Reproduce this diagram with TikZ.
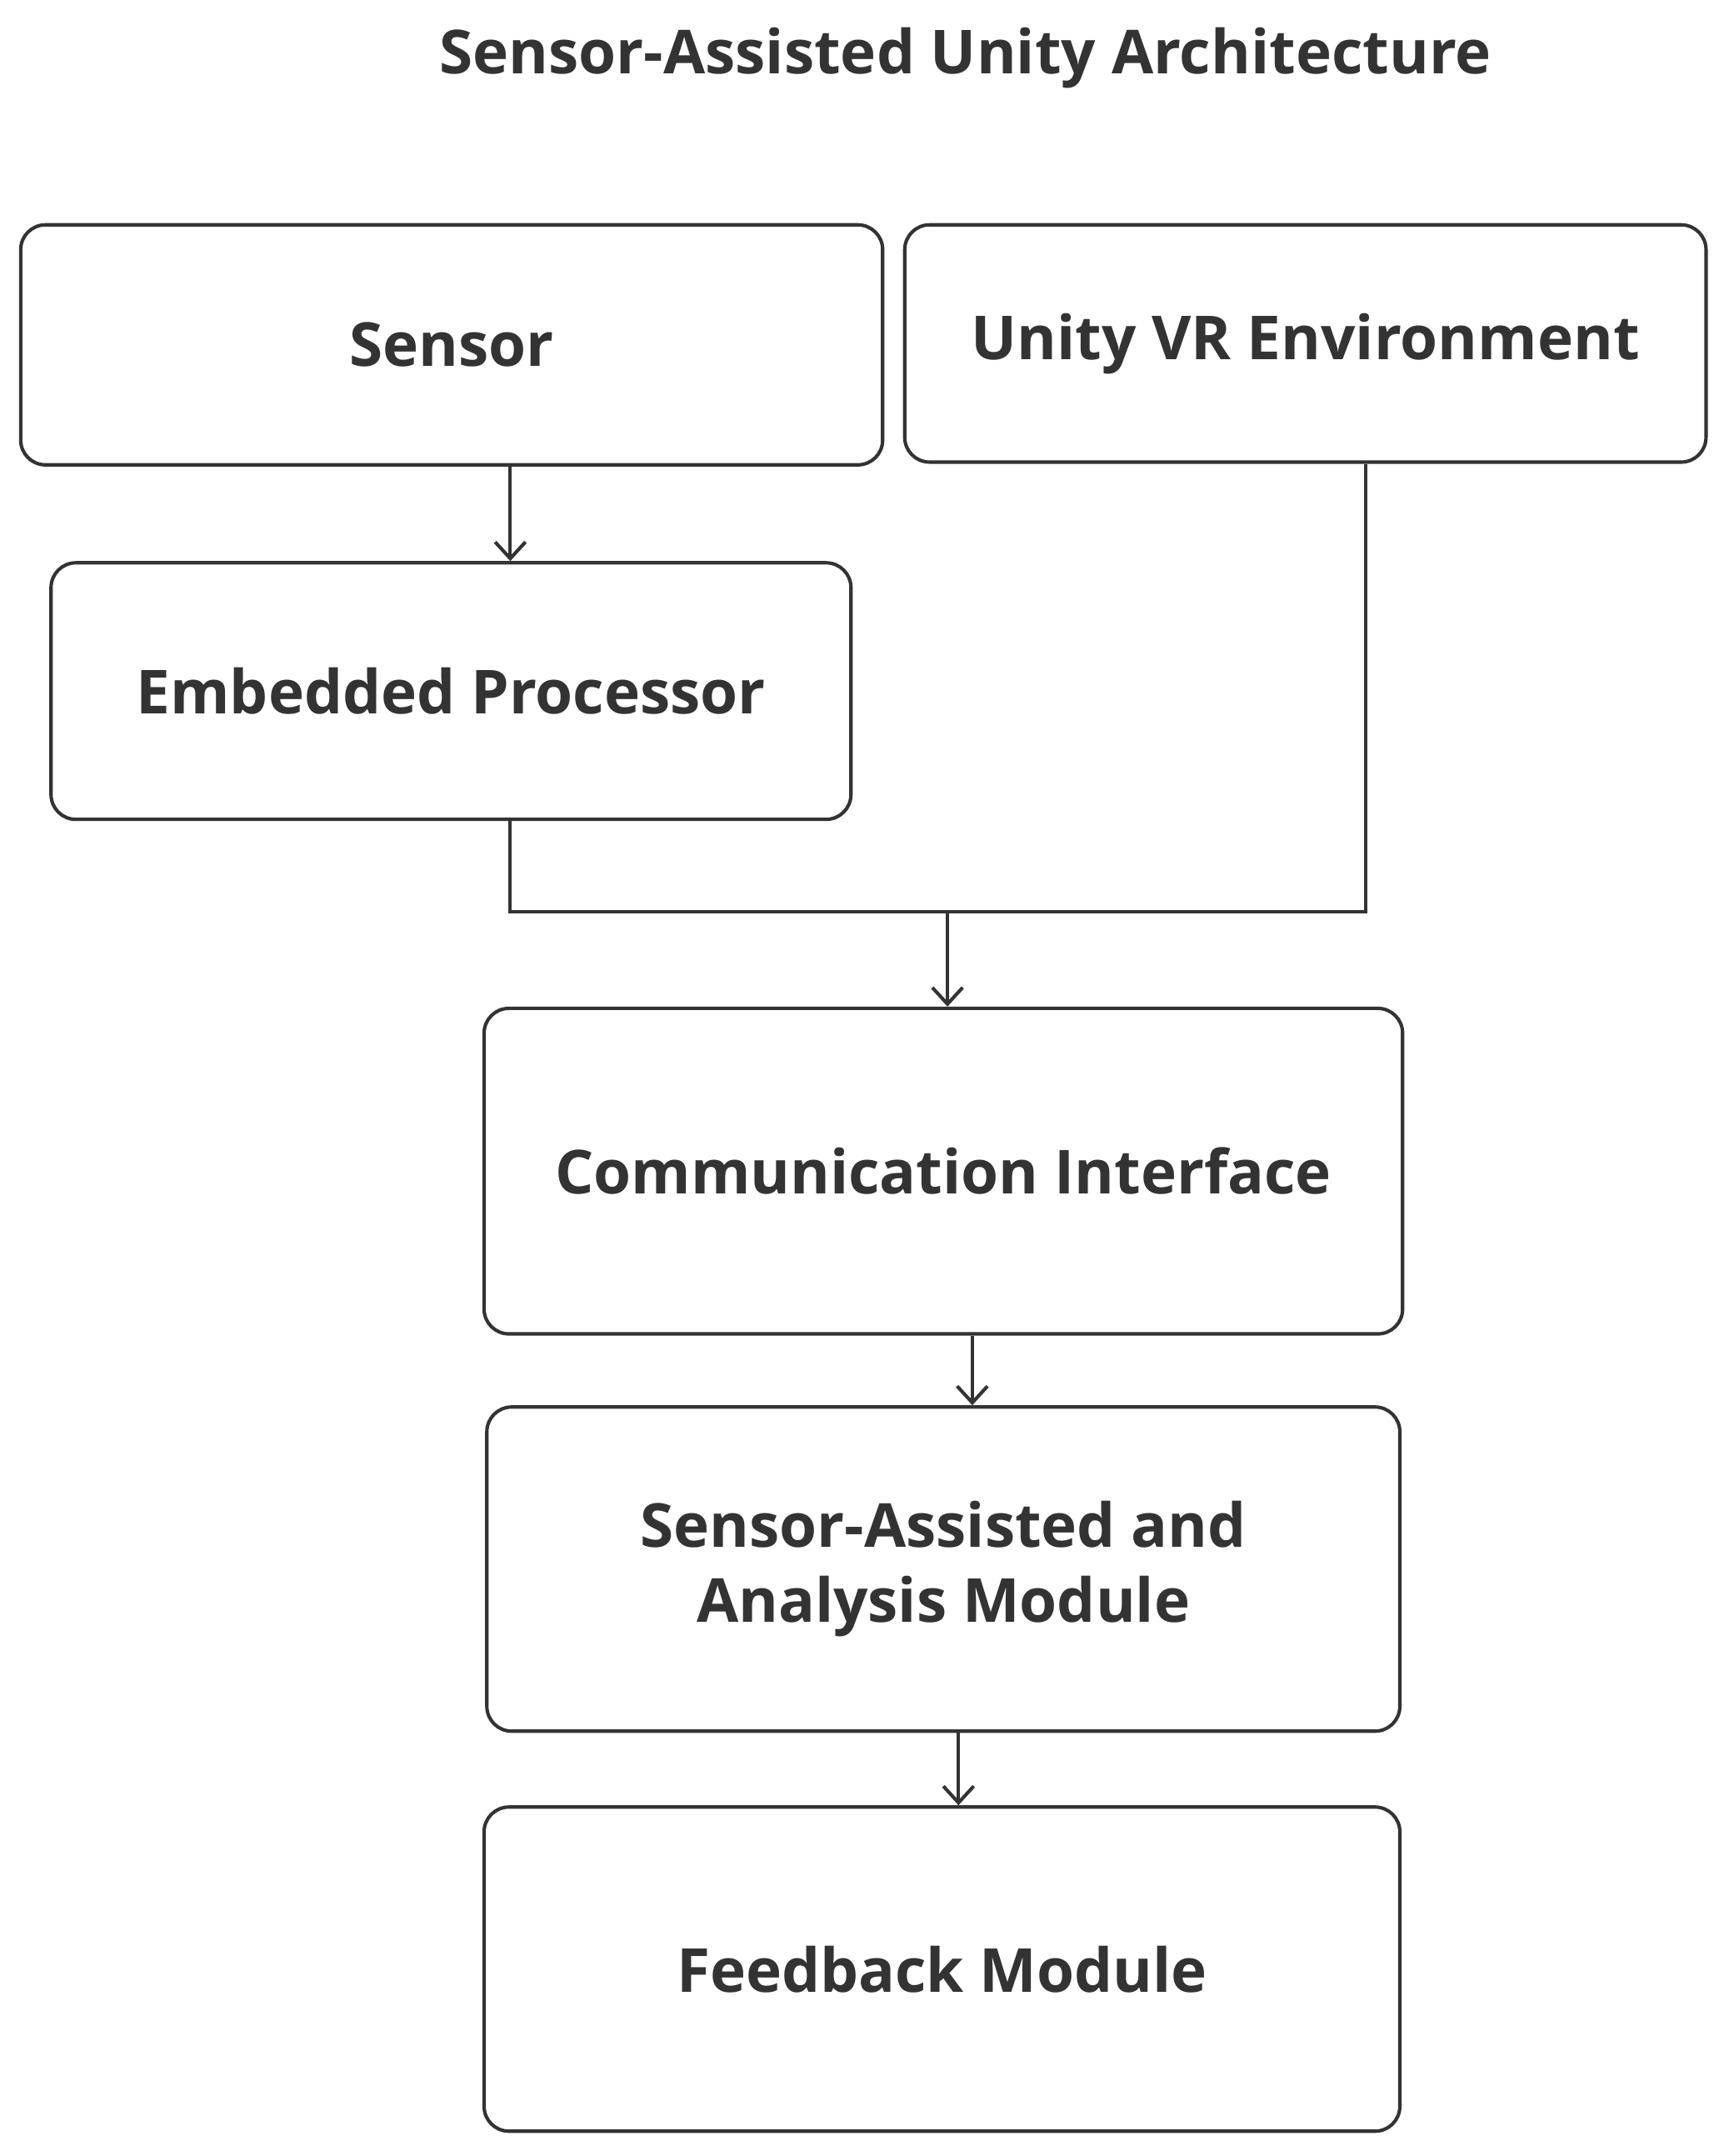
\documentclass[tikz,border=0pt]{standalone}
\usepackage{fontspec}
\setmainfont{Open Sans}
\usetikzlibrary{arrows.meta}
\definecolor{ink}{HTML}{333333}
\begin{document}
\begin{tikzpicture}[x=1pt,y=-1pt,
  box/.style={draw=ink,line width=2.5pt,rounded corners=18pt,text=ink,font=\fontsize{44}{54}\selectfont\bfseries,align=center,inner sep=0pt},
  arr/.style={draw=ink,line width=2.5pt,-{Straight Barb[length=12pt,width=22pt,line width=2.5pt]}},
  ln/.style={draw=ink,line width=2.5pt}]
\useasboundingbox (0,0) rectangle (1250,1563);
\node[text=ink,font=\fontsize{44}{54}\selectfont\bfseries] (title) at (700,42) {Sensor-Assisted Unity Architecture};
\node[box,minimum width=625pt,minimum height=174pt] (sensor) at (327.5,250) {Sensor};
\node[box,minimum width=581pt,minimum height=172pt] (unity) at (946.5,249) {Unity VR Environment};
\node[box,minimum width=580pt,minimum height=186pt] (emb) at (327,501) {Embedded Processor};
\node[box,minimum width=666pt,minimum height=236pt] (comm) at (684,849) {Communication Interface};
\node[box,minimum width=662pt,minimum height=235pt] (sa) at (684,1137.5) {Sensor-Assisted and\\Analysis Module};
\node[box,minimum width=664pt,minimum height=235pt] (fb) at (683,1427.5) {Feedback Module};
\coordinate (j1) at (370,661);
\coordinate (j2) at (990,661);
\coordinate (jm) at (687,661);
\draw[arr] (sensor.south -| j1) -- (emb.north -| j1);
\draw[ln] (emb.south -| j1) -- (j1) -- (j2) -- (unity.south -| j2);
\draw[arr] (jm) -- (comm.north -| jm);
\draw[arr] (comm.south -| 705,0) -- (sa.north -| 705,0);
\draw[arr] (sa.south -| 695,0) -- (fb.north -| 695,0);
\end{tikzpicture}
\end{document}
